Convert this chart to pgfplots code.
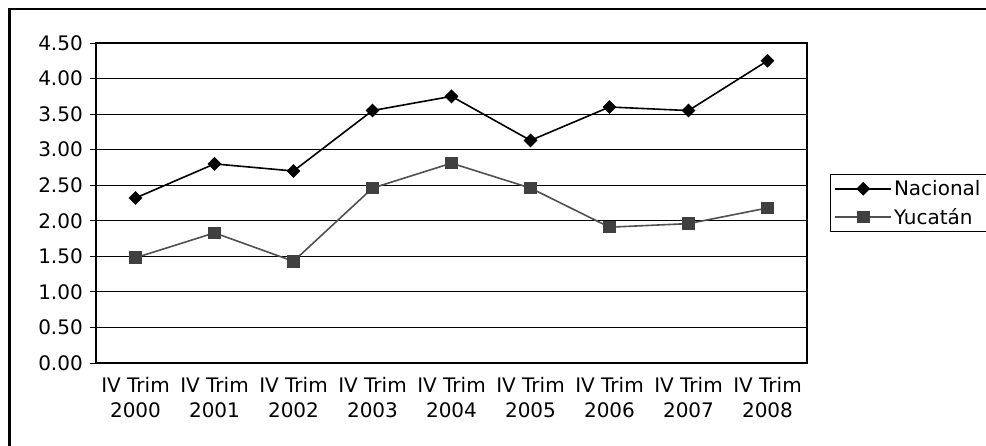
\documentclass[border=0pt]{standalone}
\usepackage{fontspec}
\setmainfont{DejaVu Sans}
\usepackage{pgfplots}
\pgfplotsset{compat=1.18}

\definecolor{yucline}{HTML}{505050}
\definecolor{yucmark}{HTML}{404040}

\begin{document}
\begin{tikzpicture}
\fill[white] (0,0) rectangle (986pt,-445pt);
\begin{axis}[
    at={(96pt,-363pt)}, anchor=south west,
    scale only axis,
    width=711pt, height=320pt,
    font=\fontsize{20}{25}\selectfont,
    xmin=-0.5, xmax=8.5,
    ymin=0, ymax=4.5,
    ytick={0,0.5,...,4.5},
    xtick={0,...,8},
    xticklabels={{IV Trim\\2000},{IV Trim\\2001},{IV Trim\\2002},{IV Trim\\2003},{IV Trim\\2004},{IV Trim\\2005},{IV Trim\\2006},{IV Trim\\2007},{IV Trim\\2008}},
    minor xtick={-0.5,0.5,...,8.5},
    xtick pos=bottom, ytick pos=left,
    tick align=outside,
    xtick style={draw=none},
    minor x tick style={black, line width=1pt},
    minor tick length=6pt,
    ytick style={black, line width=1pt},
    major tick length=6pt,
    ymajorgrids,
    major grid style={black, line width=1pt},
    axis line style={black, line width=1.3pt},
    xticklabel style={align=center, inner sep=0pt, anchor=north, yshift=-8pt},
    yticklabel style={anchor=east, inner sep=0pt, xshift=-7pt,
        /pgf/number format/fixed, /pgf/number format/fixed zerofill,
        /pgf/number format/precision=2, /pgf/number format/assume math mode=true},
    legend style={at={(axis description cs:1,0.5906)}, anchor=north west, xshift=23pt,
        draw=black, line width=0.8pt, font=\fontsize{20}{23}\selectfont,
        inner xsep=4pt, inner ysep=4pt, row sep=7pt},
    legend cell align=left,
    legend image code/.code={\draw[mark repeat=2, mark phase=2] plot coordinates {(0pt,0pt) (28pt,0pt) (56pt,0pt)};},
]
\addplot[black, line width=1.6pt, mark=square*, mark size=4.1pt, mark options={rotate=45, fill=black}]
    coordinates {(0,2.32) (1,2.80) (2,2.70) (3,3.55) (4,3.75) (5,3.13) (6,3.60) (7,3.55) (8,4.25)};
\addplot[yucline, line width=1.6pt, mark=square*, mark size=5.5pt, mark options={draw=yucmark, fill=yucmark}]
    coordinates {(0,1.48) (1,1.83) (2,1.43) (3,2.46) (4,2.81) (5,2.46) (6,1.91) (7,1.96) (8,2.18)};
\legend{Nacional, Yucatán}
\end{axis}
\draw[black, line width=2.5pt] (9.5pt,-9pt) rectangle (1000pt,-460pt);
\pgfresetboundingbox
\path[use as bounding box] (0,0) rectangle (986pt,-445pt);
\end{tikzpicture}
\end{document}
